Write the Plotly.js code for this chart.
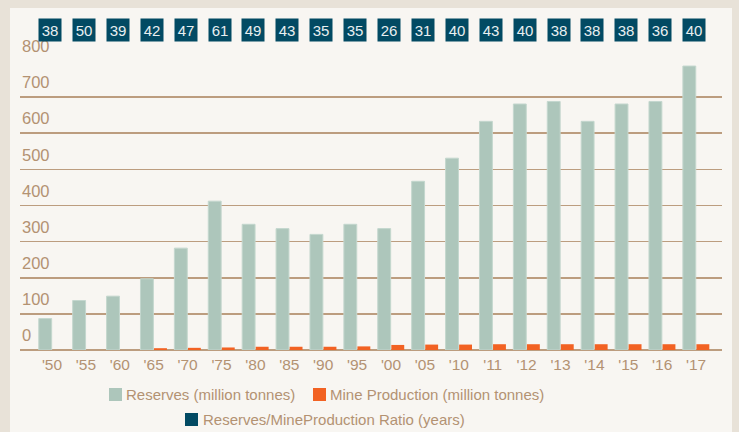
<!DOCTYPE html>
<html>
<head>
<meta charset="utf-8">
<script src="https://cdn.plot.ly/plotly-3.0.1.min.js"></script>
<style>html,body{margin:0;padding:0;background:#e8e2d8;}#chart{width:739px;height:432px;}</style>
</head>
<body>
<div id="chart"></div>
<script>
// ---- data ----
const years = ["'50","'55","'60","'65","'70","'75","'80","'85","'90","'95","'00","'05","'10","'11","'12","'13","'14","'15","'16","'17"];
const reserves = [87,137,149,197,282,412,348,336,320,348,336,467,531,633,681,688,633,681,688,786];
const production = [null,null,null,5,6,7,9,9,9,10,14,15,15,16,16,16,16,16,16,16];
const ratio = [38,50,39,42,47,61,49,43,35,35,26,31,40,43,40,38,38,38,36,40];
const seriesNames = ["Reserves (million tonnes)","Mine Production (million tonnes)","Reserves/MineProduction Ratio (years)"];
const yTicks = [0,100,200,300,400,500,600,700,800];

// ---- styles ----
const cGreen = '#adc6bb', cOrange = '#f26223', cNavy = '#024a63';
const cTan = '#b39272', cGrid = '#bc9d7f';
const FONT = 'Liberation Sans, Arial, sans-serif';
const W = 739, H = 432;
const M = {l:20, r:17, t:61, b:82};
const xp = px => (px - M.l) / (W - M.l - M.r);
const yp = py => (H - M.b - py) / (H - M.t - M.b);

const traces = [
  {type:'bar', name:seriesNames[0], x:years, y:reserves,
   marker:{color:cGreen, line:{color:'#c4d7ce', width:1}}, hoverinfo:'x+y'},
  {type:'bar', name:seriesNames[1], x:years, y:production,
   marker:{color:cOrange, line:{width:0}}, hoverinfo:'x+y'}
];

const annotations = ratio.map((r,i) => ({
  x: years[i], xref:'x', y: yp(30), yref:'paper',
  text: String(r), showarrow:false, xanchor:'center', yanchor:'middle',
  xshift:-2, width:22, height:22, borderpad:0,
  bgcolor:cNavy, font:{family:FONT, size:15, color:'#e8eff1'}
}));

// manual legend
const legendItems = [
  {name:seriesNames[0], color:cGreen, sx:109, sy:388, tx:125, ty:394.5},
  {name:seriesNames[1], color:cOrange, sx:313, sy:388, tx:329, ty:394.5},
  {name:seriesNames[2], color:cNavy, sx:185, sy:413, tx:202, ty:419.5}
];
const shapes = [
  {type:'rect', xref:'paper', yref:'paper', x0:xp(10), x1:xp(732), y0:yp(440), y1:yp(8),
   fillcolor:'#f8f6f2', line:{width:0}, layer:'below'}
];
legendItems.forEach(it => {
  shapes.push({type:'rect', xref:'paper', yref:'paper', x0:xp(it.sx), x1:xp(it.sx+13),
    y0:yp(it.sy+13), y1:yp(it.sy), fillcolor:it.color, line:{width:0}});
  annotations.push({x:xp(it.tx), xref:'paper', y:yp(it.ty), yref:'paper', text:it.name,
    showarrow:false, xanchor:'left', yanchor:'middle', borderpad:0,
    font:{family:FONT, size:15, color:cTan}});
});

const layout = {
  width:W, height:H, margin:M,
  paper_bgcolor:'#e8e2d8', plot_bgcolor:'rgba(0,0,0,0)',
  font:{family:FONT, color:cTan},
  barmode:'group', bargap:0.2, bargroupgap:0.05,
  showlegend:false,
  xaxis:{type:'category', range:[-0.944, 19.764], showgrid:false, zeroline:false, showline:false,
    ticks:'', ticklabelstandoff:3, tickfont:{family:FONT, size:15.5, color:cTan}, fixedrange:true},
  yaxis:{range:[0,800], tickvals:yTicks, ticktext:yTicks.map(String),
    showgrid:true, gridcolor:cGrid, gridwidth:1.7,
    zeroline:true, zerolinecolor:cGrid, zerolinewidth:1.7, showline:false, ticks:'',
    ticklabelposition:'inside top', ticklabeloverflow:'allow', ticklabelshift:-3, ticklabelstandoff:-1,
    tickfont:{family:FONT, size:16.5, color:cTan}, fixedrange:true},
  shapes:shapes, annotations:annotations
};

Plotly.newPlot('chart', traces, layout, {displayModeBar:false, staticPlot:true});
</script>
</body>
</html>
